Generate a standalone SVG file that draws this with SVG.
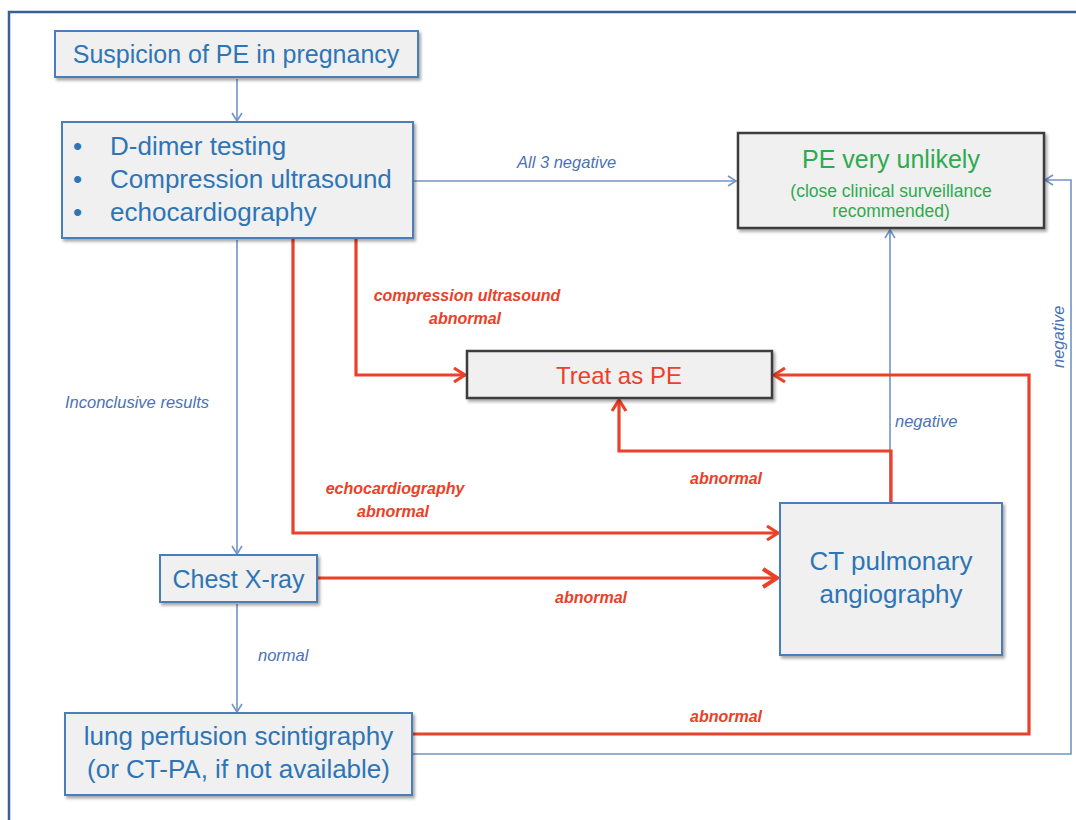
<svg xmlns="http://www.w3.org/2000/svg" width="1076" height="820" viewBox="0 0 1076 820">
<style>
.node{fill:#f0f0f0;filter:url(#sh)}
.nb{stroke:#4a7ebb;stroke-width:2}
.ng{stroke:#3c3c3c;stroke-width:2.5}
.t{font-family:"Liberation Sans",Arial,sans-serif;fill:#2e75b6;text-anchor:middle}
.tl{font-family:"Liberation Sans",Arial,sans-serif;fill:#2e75b6}
.bl{fill:none;stroke:#7194c8;stroke-width:1.6}
.rd{fill:none;stroke:#ea4128;stroke-width:3.2}
.lb{font-family:"Liberation Sans",Arial,sans-serif;font-style:italic;font-size:16.5px;fill:#4a72b5}
.lr{font-family:"Liberation Sans",Arial,sans-serif;font-style:italic;font-weight:bold;font-size:16px;fill:#ea4128;text-anchor:middle}
</style>
<defs>
<filter id="sh" x="-10%" y="-10%" width="130%" height="140%">
<feDropShadow dx="2" dy="2.5" stdDeviation="1.5" flood-color="#000" flood-opacity="0.35"/>
</filter>
<marker id="ab" markerWidth="12" markerHeight="12" refX="10" refY="6" orient="auto" markerUnits="userSpaceOnUse">
<path d="M2,1 L10,6 L2,11" fill="none" stroke="#7194c8" stroke-width="1.6"/>
</marker>
<marker id="ar" markerWidth="18" markerHeight="18" refX="15" refY="9" orient="auto" markerUnits="userSpaceOnUse">
<path d="M4,2 L15,9 L4,16" fill="none" stroke="#ea4128" stroke-width="3.2"/>
</marker>
<marker id="ar2" markerWidth="22" markerHeight="22" refX="19" refY="11" orient="auto" markerUnits="userSpaceOnUse">
<path d="M5,2 L19,11 L5,20" fill="none" stroke="#ea4128" stroke-width="4"/>
</marker>
</defs>
<rect width="1076" height="820" fill="#ffffff"/>
<rect x="9" y="12" width="1100" height="840" fill="none" stroke="#3a5f94" stroke-width="2.5"/>

<g id="connectors">
<line class="bl" x1="237" y1="79" x2="237" y2="121" marker-end="url(#ab)"/>
<line class="bl" x1="414" y1="181" x2="736" y2="181" marker-end="url(#ab)"/>
<line class="bl" x1="237" y1="240" x2="237" y2="554" marker-end="url(#ab)"/>
<line class="bl" x1="237" y1="604" x2="237" y2="712" marker-end="url(#ab)"/>
<line class="bl" x1="890" y1="502" x2="890" y2="230" marker-end="url(#ab)"/>
<polyline class="bl" points="413,754 1071,754 1071,180 1045,180" marker-end="url(#ab)"/>
<polyline class="rd" points="356,239 356,375 465,375" marker-end="url(#ar)"/>
<polyline class="rd" points="293,239 293,533 778,533" marker-end="url(#ar)"/>
<line class="rd" x1="318" y1="578" x2="777" y2="578" stroke-width="4" marker-end="url(#ar2)"/>
<polyline class="rd" points="891,502 891,451 619,451 619,400" marker-end="url(#ar)"/>
<polyline class="rd" points="413,734 1029,734 1029,375 774,375" marker-end="url(#ar)"/>
<text class="lb" x="517" y="168">All 3 negative</text>
<text class="lb" x="65" y="408">Inconclusive results</text>
<text class="lb" x="258" y="661">normal</text>
<text class="lb" x="895" y="427">negative</text>
<text class="lb" x="1064" y="368" transform="rotate(-90 1064 368)">negative</text>
<text class="lr" x="467" y="301">compression ultrasound</text>
<text class="lr" x="465" y="324">abnormal</text>
<text class="lr" x="395" y="494">echocardiography</text>
<text class="lr" x="393" y="517">abnormal</text>
<text class="lr" x="726" y="484">abnormal</text>
<text class="lr" x="591" y="603">abnormal</text>
<text class="lr" x="726" y="722">abnormal</text>
</g>

<g id="suspicion">
<rect class="node nb" x="55" y="31" width="363" height="46"/>
<text class="t" x="236" y="63" font-size="25">Suspicion of PE in pregnancy</text>
</g>
<g id="tests">
<rect class="node nb" x="62" y="122" width="351" height="116"/>
<text class="tl" x="73" y="155" font-size="26">•</text>
<text class="tl" x="73" y="188" font-size="26">•</text>
<text class="tl" x="73" y="221" font-size="26">•</text>
<text class="tl" x="110" y="155" font-size="26">D-dimer testing</text>
<text class="tl" x="110" y="188" font-size="26">Compression ultrasound</text>
<text class="tl" x="110" y="221" font-size="26">echocardiography</text>
</g>
<g id="unlikely">
<rect class="node ng" x="738" y="133" width="306" height="95"/>
<text class="t" x="891" y="168" font-size="25" style="fill:#2eaa4f">PE very unlikely</text>
<text class="t" x="891" y="197" font-size="17.5" style="fill:#2eaa4f">(close clinical surveillance</text>
<text class="t" x="891" y="217" font-size="17.5" style="fill:#2eaa4f">recommended)</text>
</g>
<g id="treat">
<rect class="node ng" x="467" y="351" width="305" height="47"/>
<text class="t" x="619" y="384" font-size="24" style="fill:#ea4128">Treat as PE</text>
</g>
<g id="ctpa">
<rect class="node nb" x="780" y="503" width="222" height="152"/>
<text class="t" x="891" y="570" font-size="26">CT pulmonary</text>
<text class="t" x="891" y="603" font-size="26">angiography</text>
</g>
<g id="xray">
<rect class="node nb" x="160" y="555" width="157" height="47"/>
<text class="t" x="238.5" y="588" font-size="25">Chest X-ray</text>
</g>
<g id="lung">
<rect class="node nb" x="65" y="713" width="347" height="82"/>
<text class="t" x="238.5" y="745" font-size="26">lung perfusion scintigraphy</text>
<text class="t" x="238.5" y="778" font-size="26">(or CT-PA, if not available)</text>
</g>
</svg>
